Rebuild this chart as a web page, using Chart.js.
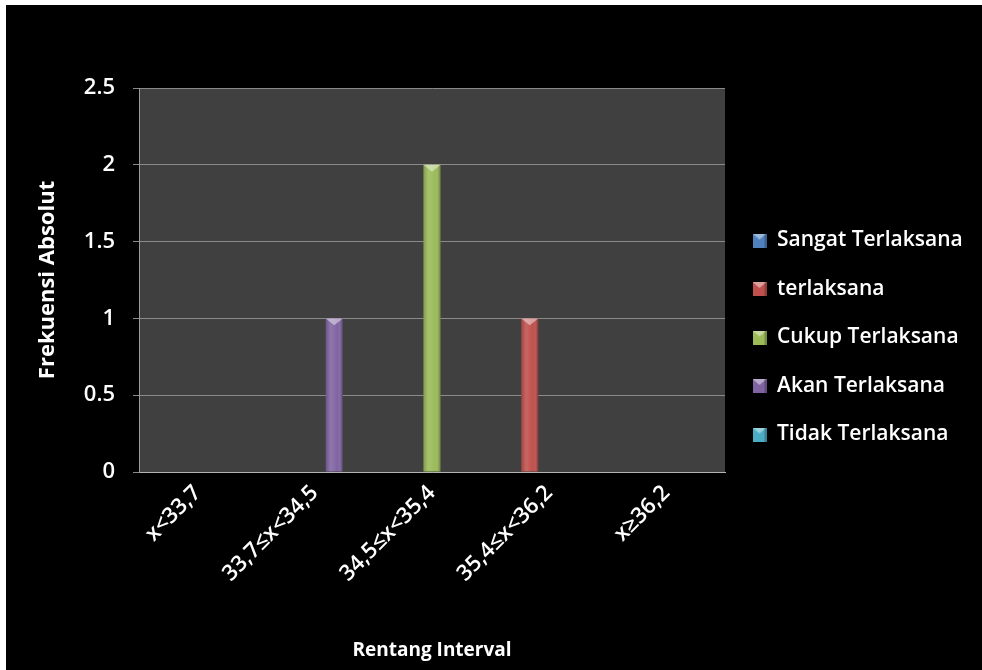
<!DOCTYPE html>
<html>
<head>
<meta charset="utf-8">
<script src="https://cdn.jsdelivr.net/npm/chart.js@4.4.1/dist/chart.umd.min.js"></script>
<style>
    html, body { margin: 0; padding: 0; background: #ffffff; }
    #wrap { position: absolute; left: 6px; top: 5px; width: 976px; height: 665px; background: #000000; }
</style>
</head>
<body>
<div id="wrap"><canvas id="barChart" width="976" height="665"></canvas></div>
<script>
const categories = ["x<33,7", "33,7≤x<34,5", "34,5≤x<35,4", "35,4≤x<36,2", "x≥36,2"];
const seriesNames = ["Sangat Terlaksana", "terlaksana", "Cukup Terlaksana", "Akan Terlaksana", "Tidak Terlaksana"];
const sangatTerlaksana = [0, 0, 0, 0, 0];
const terlaksana = [0, 0, 0, 1, 0];
const cukupTerlaksana = [0, 0, 2, 0, 0];
const akanTerlaksana = [0, 1, 0, 0, 0];
const tidakTerlaksana = [0, 0, 0, 0, 0];
const yTicks = [0, 0.5, 1, 1.5, 2, 2.5];

const seriesColors = ["#4f81bd", "#c0504d", "#9bbb59", "#8064a2", "#4bacc6"];
const seriesValues = [sangatTerlaksana, terlaksana, cukupTerlaksana, akanTerlaksana, tidakTerlaksana];

let barChartInstance = null;

// small bevelled square used as the legend marker
function legendSwatch(color) {
    const c = document.createElement("canvas");
    c.width = 14;
    c.height = 14;
    const g = c.getContext("2d");
    g.fillStyle = color;
    g.fillRect(0, 0, 14, 14);
    g.fillStyle = "rgba(255,255,255,0.45)";
    g.beginPath();
    g.moveTo(0, 0);
    g.lineTo(14, 0);
    g.lineTo(7, 6);
    g.closePath();
    g.fill();
    g.fillStyle = "rgba(0,0,0,0.25)";
    g.fillRect(12, 0, 2, 14);
    return c;
}

// black page with the dark grey plot area
const plotBackground = {
    id: "plotBackground",
    beforeDraw(chart) {
        const { ctx, chartArea } = chart;
        ctx.save();
        ctx.fillStyle = "#000000";
        ctx.fillRect(0, 0, chart.width, chart.height);
        ctx.fillStyle = "#404040";
        ctx.fillRect(chartArea.left, chartArea.top, chartArea.right - chartArea.left, chartArea.bottom - chartArea.top);
        ctx.restore();
    }
};

// shading and top facet on each bar
const barBevel = {
    id: "barBevel",
    afterDatasetsDraw(chart) {
        const ctx = chart.ctx;
        ctx.save();
        chart.data.datasets.forEach((ds, i) => {
            const meta = chart.getDatasetMeta(i);
            meta.data.forEach((bar, j) => {
                if (!ds.data[j]) return;
                const { x, y, base, width } = bar.getProps(["x", "y", "base", "width"], true);
                const l = x - width / 2;
                const r = x + width / 2;
                const g = ctx.createLinearGradient(l, 0, r, 0);
                g.addColorStop(0, "rgba(0,0,0,0.18)");
                g.addColorStop(0.3, "rgba(255,255,255,0.12)");
                g.addColorStop(0.7, "rgba(255,255,255,0)");
                g.addColorStop(1, "rgba(0,0,0,0.35)");
                ctx.fillStyle = g;
                ctx.fillRect(l, y, width, base - y);
                ctx.fillStyle = "rgba(255,255,255,0.45)";
                ctx.beginPath();
                ctx.moveTo(l, y);
                ctx.lineTo(r, y);
                ctx.lineTo(x, y + width * 0.4);
                ctx.closePath();
                ctx.fill();
            });
        });
        ctx.restore();
    }
};

// fixed legend column width
const legendWidth = {
    id: "legendWidth",
    beforeInit(chart) {
        const fit = chart.legend.fit;
        chart.legend.fit = function () {
            fit.call(this);
            this.width = 257;
        };
    }
};

window.onload = function () {
    renderBarChart();
};

function renderBarChart() {
    if (barChartInstance) {
        barChartInstance.destroy();
    }

    const datasets = seriesNames.map((name, i) => ({
        label: name,
        data: seriesValues[i],
        backgroundColor: seriesColors[i],
        borderWidth: 0,
        categoryPercentage: 0.83,
        barPercentage: 0.88
    }));

    barChartInstance = new Chart(
        document.getElementById("barChart"),
        {
            type: "bar",
            data: {
                labels: categories,
                datasets: datasets
            },
            options: {
                responsive: false,
                animation: false,
                devicePixelRatio: 1,
                layout: {
                    padding: { left: 0, right: 0, top: 0, bottom: 0 }
                },
                scales: {
                    x: {
                        grid: { display: false, drawTicks: false },
                        border: { display: true, color: "#b4b4b4", width: 1 },
                        ticks: {
                            color: "#ffffff",
                            font: { family: "Open Sans", size: 22, weight: "600" },
                            minRotation: 45,
                            maxRotation: 45,
                            padding: 8,
                            autoSkip: false
                        },
                        title: {
                            display: true,
                            text: "Rentang Interval",
                            color: "#ffffff",
                            font: { family: "Open Sans", size: 19, weight: "bold" },
                            padding: { top: 0, bottom: 8 }
                        },
                        afterFit(scale) {
                            scale.height = 198;
                        }
                    },
                    y: {
                        min: 0,
                        max: 2.5,
                        afterBuildTicks(scale) {
                            scale.ticks = yTicks.map(v => ({ value: v }));
                        },
                        grid: { color: "#8a8a8a", lineWidth: 1, tickLength: 6, drawTicks: true },
                        border: { display: true, color: "#9a9a9a", width: 1 },
                        ticks: {
                            color: "#ffffff",
                            font: { family: "Open Sans", size: 22, weight: "600" },
                            padding: 18,
                            callback: v => String(v)
                        },
                        title: {
                            display: true,
                            text: "Frekuensi Absolut",
                            color: "#ffffff",
                            font: { family: "Open Sans", size: 22, weight: "bold" },
                            padding: { top: 29, bottom: 0 }
                        },
                        afterFit(scale) {
                            scale.width = 133;
                        }
                    }
                },
                plugins: {
                    title: {
                        display: true,
                        text: "",
                        font: { size: 10, lineHeight: 1 },
                        padding: { top: 73, bottom: 0 }
                    },
                    tooltip: { enabled: false },
                    legend: {
                        position: "right",
                        align: "center",
                        labels: {
                            color: "#ffffff",
                            font: { family: "Open Sans", size: 21, weight: "600" },
                            padding: 27.5,
                            boxWidth: 14,
                            usePointStyle: true,
                            generateLabels(chart) {
                                return chart.data.datasets.map((ds, i) => ({
                                    text: ds.label,
                                    fillStyle: ds.backgroundColor,
                                    strokeStyle: ds.backgroundColor,
                                    lineWidth: 0,
                                    pointStyle: legendSwatch(ds.backgroundColor),
                                    fontColor: "#ffffff",
                                    hidden: false,
                                    datasetIndex: i
                                }));
                            }
                        }
                    }
                }
            },
            plugins: [plotBackground, barBevel, legendWidth]
        }
    );
}
</script>
</body>
</html>
